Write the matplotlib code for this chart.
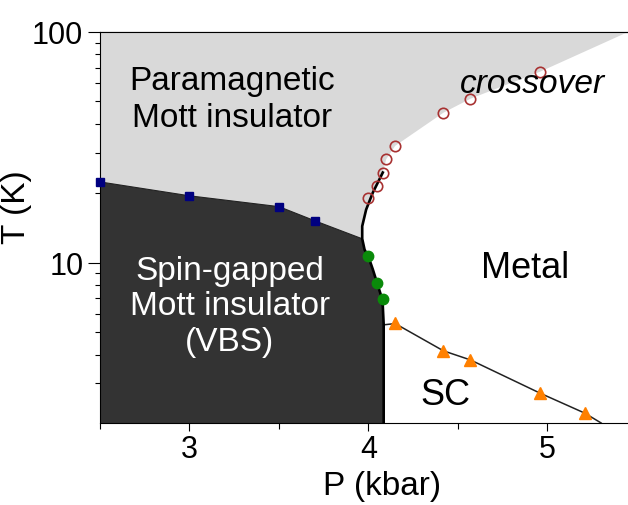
#!/usr/bin/env python3

# Phase diagram, T vs P (log T)
import matplotlib
matplotlib.use('Agg')
import matplotlib.pyplot as plt
from matplotlib.ticker import FixedLocator, NullFormatter

plt.rcParams['font.family'] = ['Liberation Sans', 'DejaVu Sans']

#####################
# Data
#####################
# blue squares: spin gap transition
sq_p = [2.5, 3.0, 3.5, 3.7]
sq_t = [22.4, 19.5, 17.5, 15.2]

# green dots: first order line, low T part
green_p = [4.0, 4.046, 4.08]
green_t = [10.7, 8.15, 6.93]

# open circles: crossover
circ_p = [4.0, 4.049, 4.08, 4.099, 4.149, 4.419, 4.57, 4.959]
circ_t = [19.0, 21.4, 24.6, 28.1, 32.1, 44.7, 51.4, 67.3]

# orange triangles: superconducting Tc
tri_p = [4.149, 4.419, 4.57, 4.959, 5.208]
tri_t = [5.47, 4.15, 3.79, 2.72, 2.23]

# thick black first order line (top to bottom), kink at index 4
fo_p = [4.08, 4.024, 3.987, 3.965, 3.965, 3.978, 4.0, 4.024, 4.049, 4.071, 4.08, 4.085, 4.085]
fo_t = [24.6, 20.1, 17.0, 14.4, 12.7, 11.4, 10.6, 9.37, 8.13, 7.18, 6.5, 5.4, 2.02]
kink = 4

# SC boundary line
sc_p = [4.085, 4.149, 4.419, 4.57, 4.959, 5.208, 5.30]
sc_t = [5.38, 5.45, 4.15, 3.79, 2.72, 2.23, 2.02]

# crossover edge of grey region beyond the curve
edge_p = [4.099, 4.149, 4.419, 4.57, 4.959, 5.45]
edge_t = [28.1, 32.1, 44.7, 51.4, 67.3, 100.0]

xticks = [3, 4, 5]
xtick_labels = ['3', '4', '5']
yticks = [10, 100]
ytick_labels = ['10', '100']

xmin, xmax = 2.5, 5.45
ymin, ymax = 2.02, 100.0

#####################
# Make the plot...
#####################
fig = plt.figure(facecolor='white', figsize=(6.28, 5.06), dpi=100)
ax = fig.add_axes([100/628, 1-424/506, 528/628, 391/506])
ax.set_yscale('log')
ax.set_xlim(xmin, xmax)
ax.set_ylim(ymin, ymax)

# light grey: paramagnetic Mott insulator
gx = [xmin, xmin] + sq_p + fo_p[kink::-1] + edge_p
gy = [ymax, sq_t[0]] + sq_t + fo_t[kink::-1] + edge_t
ax.fill(gx, gy, color='#d9d9d9', lw=0, zorder=1)

# dark: spin gapped Mott insulator
dx = sq_p + fo_p[kink:] + [xmin]
dy = sq_t + fo_t[kink:] + [ymin]
ax.fill(dx, dy, color='#333333', lw=0, zorder=2)

# lines
ax.plot(sq_p + [fo_p[kink]], sq_t + [fo_t[kink]], color='#222222', lw=0.8, zorder=3)
ax.plot(fo_p, fo_t, color='black', lw=1.9, zorder=4)
ax.plot(sc_p, sc_t, color='#222222', lw=1.1, zorder=3)

# markers
ax.plot(sq_p, sq_t, ls='none', marker='s', ms=6, color='#000080', zorder=5, clip_on=False)
ax.plot(green_p, green_t, ls='none', marker='o', ms=7.5, color='#0a8a0a', zorder=5)
ax.plot(circ_p, circ_t, ls='none', marker='o', ms=7.5, mfc='none', mec='#a83232', mew=1.2, zorder=5)
ax.plot(tri_p, tri_t, ls='none', marker='^', ms=9, color='#ff8000', zorder=5)

# region labels
ax.text(3.24, 51, 'Paramagnetic\nMott insulator', fontsize=24, ha='center', va='center',
        linespacing=1.25, zorder=6)
ax.text(3.225, 6.5, 'Spin-gapped\nMott insulator\n(VBS)', fontsize=24, ha='center', va='center',
        color='white', linespacing=1.18, zorder=6)
ax.text(4.916, 54.7, 'crossover', fontsize=24, style='italic', ha='center', va='baseline', zorder=6)
ax.text(4.877, 8.63, 'Metal', fontsize=26, ha='center', va='baseline', zorder=6)
ax.text(4.43, 2.44, 'SC', fontsize=26, ha='center', va='baseline', zorder=6)

# axes / ticks
ax.spines['right'].set_visible(False)
for s in ['left', 'top', 'bottom']:
    ax.spines[s].set_linewidth(0.8)

ax.xaxis.set_major_locator(FixedLocator(xticks))
ax.set_xticklabels(xtick_labels)
ax.xaxis.set_minor_locator(FixedLocator([2.5, 3.5, 4.5]))
ax.yaxis.set_major_locator(FixedLocator(yticks))
ax.set_yticklabels(ytick_labels)
ax.yaxis.set_minor_formatter(NullFormatter())

ax.tick_params(axis='x', which='major', direction='out', length=6, width=0.8, labelsize=22, pad=2)
ax.tick_params(axis='x', which='minor', direction='out', length=4, width=0.8)
ax.tick_params(axis='y', which='major', direction='out', length=9, width=0.8, labelsize=22, pad=3)
ax.tick_params(axis='y', which='minor', direction='out', length=3.5, width=0.8)

top = ax.secondary_xaxis('top')
top.xaxis.set_major_locator(FixedLocator([3, 3.5, 4, 4.5, 5]))
top.tick_params(direction='in', length=6, width=0.8, labeltop=False)
top.spines['top'].set_linewidth(0.8)

ax.set_xlabel('P (kbar)', fontsize=24)
ax.xaxis.set_label_coords((382-100)/528, -(487-424)/391)
ax.xaxis.label.set_verticalalignment('center')
ax.set_ylabel('T (K)', fontsize=24)
ax.yaxis.set_label_coords(-(100-17)/528, (424-207)/391)
ax.yaxis.label.set_verticalalignment('center')

plt.savefig('out.png', dpi=100)
